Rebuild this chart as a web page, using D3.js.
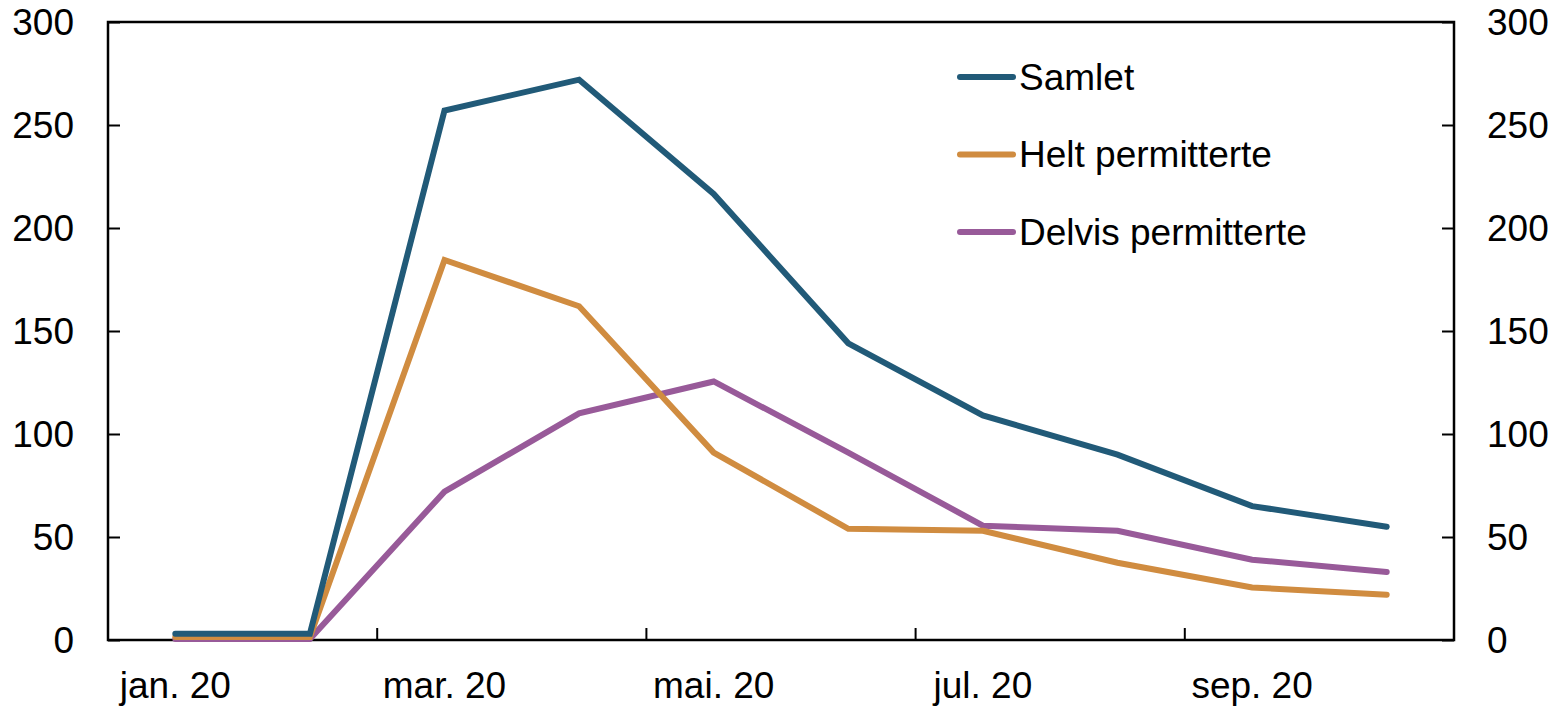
<!DOCTYPE html>
<html>
<head>
<meta charset="utf-8">
<script src="https://cdn.jsdelivr.net/npm/d3@7"></script>
<style>
  body { margin: 0; background: #fff; }
  svg text { font-family: "Liberation Sans", Arial, sans-serif; fill: #000; }
</style>
</head>
<body>
<svg width="1559" height="706"></svg>
<script>
// months, jan 2020 - okt 2020
var months = ["jan. 20", "feb. 20", "mar. 20", "apr. 20", "mai. 20", "jun. 20", "jul. 20", "aug. 20", "sep. 20", "okt. 20"];
var samlet = [3, 3, 257, 272, 216.5, 144, 109, 90, 65, 55];
var helt = [1.5, 1.5, 184.5, 162, 91, 54, 53, 37.5, 25.5, 22];
var delvis = [0.5, 0.5, 72, 110, 125.5, 91, 55.5, 53, 39, 33];
var yTicks = [0, 50, 100, 150, 200, 250, 300];

var series = [
  {name: "Samlet", values: samlet, color: "#215a78"},
  {name: "Helt permitterte", values: helt, color: "#d08c40"},
  {name: "Delvis permitterte", values: delvis, color: "#985a99"}
];

var svg = d3.select("svg");
var pL = 108, pR = 1454, pT = 22, pB = 640;
var fs = 37;

var x = d3.scaleBand().domain(months).range([pL, pR]);
var y = d3.scaleLinear().domain([0, 300]).range([pB, pT]);

// frame
svg.append("rect")
  .attr("x", pL).attr("y", pT)
  .attr("width", pR - pL).attr("height", pB - pT)
  .attr("fill", "none").attr("stroke", "#000").attr("stroke-width", 2.5);

// left axis
var gl = svg.append("g").attr("transform", "translate(" + pL + ",0)")
  .call(d3.axisRight(y).tickValues(yTicks).tickSize(12).tickFormat(""));
gl.select(".domain").remove();
gl.selectAll(".tick line").attr("stroke-width", 2);
yTicks.forEach(function(t) {
  svg.append("text").attr("x", 74).attr("y", y(t)).attr("dy", "0.35em")
    .attr("text-anchor", "end").attr("font-size", fs).text(t);
  svg.append("text").attr("x", 1487).attr("y", y(t)).attr("dy", "0.35em")
    .attr("text-anchor", "start").attr("font-size", fs).text(t);
});

// right axis
var gr = svg.append("g").attr("transform", "translate(" + pR + ",0)")
  .call(d3.axisLeft(y).tickValues(yTicks).tickSize(12).tickFormat(""));
gr.select(".domain").remove();
gr.selectAll(".tick line").attr("stroke-width", 2);

// bottom ticks every other month boundary
var bTicks = [2, 4, 6, 8].map(function(i) { return x(months[i]); });
svg.selectAll(".btick").data(bTicks).enter().append("line")
  .attr("x1", d => d).attr("x2", d => d)
  .attr("y1", pB).attr("y2", pB - 12)
  .attr("stroke", "#000").attr("stroke-width", 2);

months.forEach(function(m, i) {
  if (i % 2 == 0)
    svg.append("text").attr("x", x(m) + x.bandwidth() / 2).attr("y", 685).attr("dy", "0.35em")
      .attr("text-anchor", "middle").attr("font-size", fs).text(m);
});

var line = d3.line()
  .x((d, i) => x(months[i]) + x.bandwidth() / 2)
  .y(d => y(d));

series.slice().reverse().forEach(function(s) {
  svg.append("path").attr("d", line(s.values))
    .attr("fill", "none").attr("stroke", s.color)
    .attr("stroke-width", 6).attr("stroke-linecap", "round").attr("stroke-linejoin", "miter");
});

// legend
series.forEach(function(s, i) {
  var ly = 77 + i * 77.5;
  svg.append("line").attr("x1", 960).attr("x2", 1013).attr("y1", ly).attr("y2", ly)
    .attr("stroke", s.color).attr("stroke-width", 6).attr("stroke-linecap", "round");
  svg.append("text").attr("x", 1019).attr("y", ly).attr("dy", "0.35em")
    .attr("font-size", fs).text(s.name);
});
</script>
</body>
</html>
